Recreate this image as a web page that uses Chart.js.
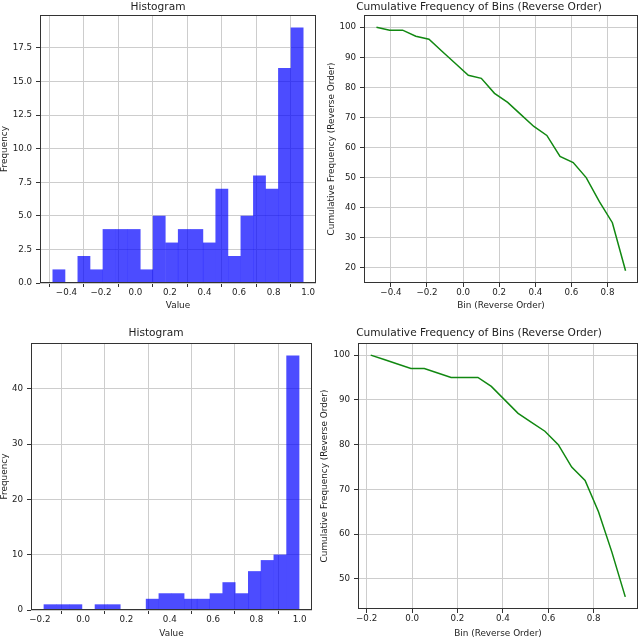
<!DOCTYPE html>
<html>
<head>
<meta charset="utf-8">
<title>Histograms and reverse cumulative frequency</title>
<script src="https://cdn.jsdelivr.net/npm/chart.js@4.4.0/dist/chart.umd.min.js"></script>
<style>
  html, body { margin: 0; padding: 0; background: #fff; }
  #wrap { position: relative; width: 640px; height: 638px; overflow: hidden; }
  #wrap canvas { position: absolute; }
</style>
</head>
<body>
<div id="wrap">
  <canvas id="histTop" width="320" height="320" style="left:0;top:0"></canvas>
  <canvas id="cumTop" width="320" height="320" style="left:320px;top:0"></canvas>
  <canvas id="histBottom" width="320" height="318" style="left:0;top:320px"></canvas>
  <canvas id="cumBottom" width="320" height="318" style="left:320px;top:320px"></canvas>
</div>
<script>
// top row: first sample
var topEdges = [-0.48, -0.407, -0.335, -0.262, -0.189, -0.117, -0.044, 0.029, 0.101, 0.174,
  0.247, 0.319, 0.392, 0.464, 0.537, 0.610, 0.682, 0.755, 0.827, 0.900, 0.973];
var topCounts = [1, 0, 2, 1, 4, 4, 4, 1, 5, 3, 4, 4, 3, 7, 2, 5, 8, 7, 16, 19];
var topBins = [-0.48, -0.407, -0.335, -0.262, -0.189, -0.117, -0.044, 0.029, 0.101, 0.174,
  0.247, 0.319, 0.392, 0.464, 0.537, 0.610, 0.682, 0.755, 0.827, 0.900];
var topCumulative = [100, 99, 99, 97, 96, 92, 88, 84, 83, 78, 75, 71, 67, 64, 57, 55, 50, 42, 35, 19];

// bottom row: second sample
var bottomEdges = [-0.182, -0.123, -0.064, -0.005, 0.054, 0.113, 0.172, 0.231, 0.290, 0.349,
  0.408, 0.467, 0.526, 0.585, 0.644, 0.703, 0.762, 0.821, 0.880, 0.939, 0.998];
var bottomCounts = [1, 1, 1, 0, 1, 1, 0, 0, 2, 3, 3, 2, 2, 3, 5, 3, 7, 9, 10, 46];
var bottomBins = [-0.182, -0.123, -0.064, -0.005, 0.054, 0.113, 0.172, 0.231, 0.290, 0.349,
  0.408, 0.467, 0.526, 0.585, 0.644, 0.703, 0.762, 0.821, 0.880, 0.939];
var bottomCumulative = [100, 99, 98, 97, 97, 96, 95, 95, 95, 93, 90, 87, 85, 83, 80, 75, 72, 65, 56, 46];

// tick labels
var histTopXTicks = [-0.4, -0.2, 0, 0.2, 0.4, 0.6, 0.8, 1.0];
var histTopYTicks = [0, 2.5, 5, 7.5, 10, 12.5, 15, 17.5];
var cumTopXTicks = [-0.4, -0.2, 0, 0.2, 0.4, 0.6, 0.8];
var cumTopYTicks = [20, 30, 40, 50, 60, 70, 80, 90, 100];
var histBottomXTicks = [-0.2, 0, 0.2, 0.4, 0.6, 0.8, 1.0];
var histBottomYTicks = [0, 10, 20, 30, 40];
var cumBottomXTicks = [-0.2, 0, 0.2, 0.4, 0.6, 0.8];
var cumBottomYTicks = [50, 60, 70, 80, 90, 100];

(function () {
  var FONT = '"DejaVu Sans", sans-serif';
  var TEXT = "#222";
  var GRID = "#cdcdcd";
  var AXIS = "#333";

  function minus(s) {
    return s.replace("-", "\u2212");
  }

  // histogram bars sit at bin centres so the bar width spans the bin
  function binPoints(edges, counts) {
    return counts.map(function (c, i) {
      return { x: (edges[i] + edges[i + 1]) / 2, y: c };
    });
  }

  function linePoints(xs, ys) {
    return xs.map(function (x, i) {
      return { x: x, y: ys[i] };
    });
  }

  var framePlugin = {
    id: "frame",
    afterDraw: function (chart) {
      var a = chart.chartArea;
      var ctx = chart.ctx;
      ctx.save();
      ctx.strokeStyle = AXIS;
      ctx.lineWidth = 1;
      ctx.strokeRect(Math.round(a.left) + 0.5, Math.round(a.top) + 0.5,
        Math.round(a.width) - 1, Math.round(a.height) - 1);
      ctx.restore();
    },
  };

  function axis(o) {
    return {
      type: "linear",
      min: o.min,
      max: o.max,
      offset: false,
      afterBuildTicks: function (s) {
        s.ticks = o.ticks.map(function (v) { return { value: v }; });
      },
      afterFit: function (s) {
        s[o.fitProp] = o.size;
      },
      border: { display: false },
      grid: { color: GRID, lineWidth: 1, tickColor: AXIS, tickLength: 4, drawTicks: true },
      ticks: {
        autoSkip: false,
        maxRotation: 0,
        padding: o.tickPad,
        color: TEXT,
        font: { family: FONT, size: 8.7 },
        callback: function (v) { return minus(v.toFixed(o.decimals)); },
      },
      title: {
        display: true,
        text: o.title,
        color: TEXT,
        font: { family: FONT, size: 8.9, lineHeight: 1 },
        padding: o.titlePad,
      },
    };
  }

  function build(id, cfg) {
    var el = document.getElementById(id);
    if (!el) return;
    new Chart(el.getContext("2d"), {
      type: cfg.type,
      data: { datasets: [cfg.dataset] },
      plugins: [framePlugin],
      options: {
        responsive: false,
        animation: false,
        devicePixelRatio: 1,
        layout: { padding: { left: 0, right: cfg.padRight, top: 0, bottom: 0 } },
        plugins: {
          legend: { display: false },
          tooltip: { enabled: false },
          title: {
            display: true,
            text: cfg.title,
            color: TEXT,
            font: { family: FONT, size: 10.6, weight: "normal", lineHeight: 1 },
            padding: cfg.titlePad,
          },
        },
        scales: { x: cfg.x, y: cfg.y },
      },
    });
  }

  function histDataset(edges, counts) {
    return {
      data: binPoints(edges, counts),
      backgroundColor: "rgba(0,0,255,0.7)",
      borderWidth: 0,
      barPercentage: 1,
      categoryPercentage: 1,
      inflateAmount: 0.15,
    };
  }

  function cumDataset(xs, ys) {
    return {
      data: linePoints(xs, ys),
      borderColor: "#118811",
      borderWidth: 1.5,
      pointRadius: 0,
      tension: 0,
      fill: false,
    };
  }

  build("histTop", {
    type: "bar",
    title: "Histogram",
    titlePad: { top: 2, bottom: 2.4 },
    padRight: 4,
    dataset: histDataset(topEdges, topCounts),
    x: axis({ min: -0.553, max: 1.046, ticks: histTopXTicks, decimals: 1, fitProp: "height", size: 37,
      tickPad: 1, title: "Value", titlePad: { top: 0, bottom: 9.5 } }),
    y: axis({ min: 0, max: 19.95, ticks: histTopYTicks, decimals: 1, fitProp: "width", size: 40,
      tickPad: 4, title: "Frequency", titlePad: { top: 0, bottom: 0 } }),
  });

  build("cumTop", {
    type: "line",
    title: "Cumulative Frequency of Bins (Reverse Order)",
    titlePad: { top: 2, bottom: 2.4 },
    padRight: 2,
    dataset: cumDataset(topBins, topCumulative),
    x: axis({ min: -0.549, max: 0.969, ticks: cumTopXTicks, decimals: 1, fitProp: "height", size: 37,
      tickPad: 1, title: "Bin (Reverse Order)", titlePad: { top: 0, bottom: 9.5 } }),
    y: axis({ min: 14.95, max: 104.05, ticks: cumTopYTicks, decimals: 0, fitProp: "width", size: 44,
      tickPad: 4, title: "Cumulative Frequency (Reverse Order)", titlePad: { top: 7.2, bottom: 0 } }),
  });

  build("histBottom", {
    type: "bar",
    title: "Histogram",
    titlePad: { top: 8.2, bottom: 4.2 },
    padRight: 8,
    dataset: histDataset(bottomEdges, bottomCounts),
    x: axis({ min: -0.241, max: 1.057, ticks: histBottomXTicks, decimals: 1, fitProp: "height", size: 28,
      tickPad: 1, title: "Value", titlePad: { top: 0, bottom: 0.3 } }),
    y: axis({ min: 0, max: 48.3, ticks: histBottomYTicks, decimals: 0, fitProp: "width", size: 31,
      tickPad: 4, title: "Frequency", titlePad: { top: 0, bottom: 0 } }),
  });

  build("cumBottom", {
    type: "line",
    title: "Cumulative Frequency of Bins (Reverse Order)",
    titlePad: { top: 8.2, bottom: 4.2 },
    padRight: 2,
    dataset: cumDataset(bottomBins, bottomCumulative),
    x: axis({ min: -0.238, max: 0.995, ticks: cumBottomXTicks, decimals: 1, fitProp: "height", size: 29,
      tickPad: 1, title: "Bin (Reverse Order)", titlePad: { top: 0, bottom: 0.3 } }),
    y: axis({ min: 43.3, max: 102.7, ticks: cumBottomYTicks, decimals: 0, fitProp: "width", size: 38,
      tickPad: 4, title: "Cumulative Frequency (Reverse Order)", titlePad: { top: 0.5, bottom: 0 } }),
  });
})();
</script>
</body>
</html>
